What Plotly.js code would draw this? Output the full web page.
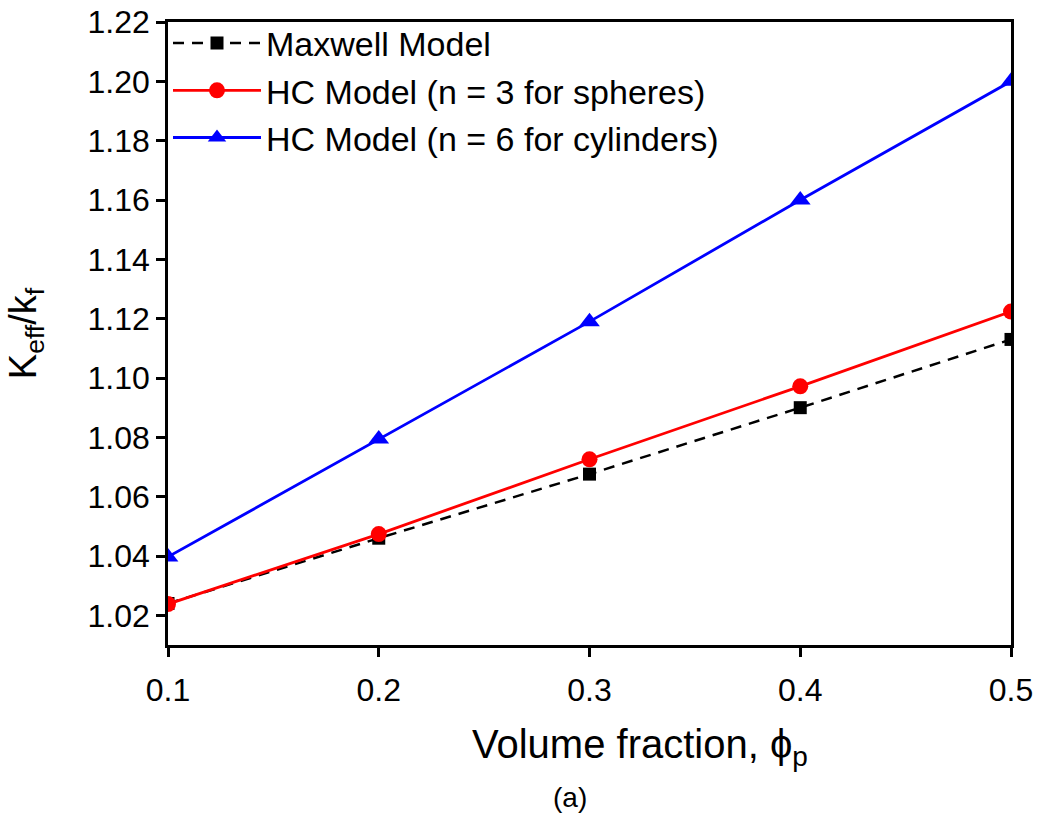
<!DOCTYPE html>
<html><head><meta charset="utf-8">
<script src="https://cdn.plot.ly/plotly-3.0.1.min.js"></script>
<style>body{margin:0;background:#fff}</style></head>
<body><div id="plot" style="width:1045px;height:818px"></div>
<script>
const xVals = [0.1, 0.2, 0.3, 0.4, 0.5];
const maxwell = [1.024, 1.046, 1.0676, 1.090, 1.113];
const hc3 = [1.0238, 1.0474, 1.0726, 1.0972, 1.1224];
const hc6 = [1.0397, 1.0794, 1.119, 1.160, 1.200];
const names = ['Maxwell Model', 'HC Model (n = 3 for spheres)', 'HC Model (n = 6 for cylinders)'];
const xTicks = [0.1, 0.2, 0.3, 0.4, 0.5];
const xTickText = ['0.1','0.2','0.3','0.4','0.5'];
const yTicks = [1.02,1.04,1.06,1.08,1.10,1.12,1.14,1.16,1.18,1.20,1.22];
const yTickText = ['1.02','1.04','1.06','1.08','1.10','1.12','1.14','1.16','1.18','1.20','1.22'];
const xTitle = 'Volume fraction, ϕ<sub>p</sub>';
const yTitle = 'K<sub>eff</sub>/k<sub>f</sub>';
const caption = '(a)';

const font = 'Liberation Sans, Arial, sans-serif';
const traces = [
  {x: xVals, y: maxwell, name: names[0], mode: 'lines+markers',
   line: {color: 'black', width: 2.5, dash: '11px,8px'}, marker: {symbol: 'square', size: 13, color: 'black'}},
  {x: xVals, y: hc3, name: names[1], mode: 'lines+markers',
   line: {color: '#ff0000', width: 2.8}, marker: {symbol: 'circle', size: 16, color: '#ff0000'}},
  {x: xVals, y: hc6, name: names[2], mode: 'lines+markers',
   line: {color: '#0000ff', width: 2.8}, marker: {symbol: 'triangle-up', size: 18, color: '#0000ff'}}
];
const axisCommon = {
  showline: true, linecolor: 'black', linewidth: 2.5, mirror: true,
  ticks: 'outside', ticklen: 9, tickwidth: 2.5, tickcolor: 'black',
  showgrid: false, zeroline: false,
  tickfont: {family: font, size: 32, color: 'black'}
};
const layout = {
  width: 1045, height: 818,
  margin: {l: 168, r: 34, t: 22, b: 173},
  paper_bgcolor: 'white', plot_bgcolor: 'white',
  showlegend: true,
  legend: {x: 0.0, y: 1.012, xanchor: 'left', yanchor: 'top', bgcolor: 'rgba(0,0,0,0)',
    font: {family: font, size: 34, color: 'black'}, itemwidth: 88, tracegroupgap: 0},
  xaxis: Object.assign({}, axisCommon, {
    range: [0.1, 0.5], tickvals: xTicks, ticktext: xTickText, ticklabelstandoff: 6
  }),
  yaxis: Object.assign({}, axisCommon, {
    range: [1.01, 1.22], tickvals: yTicks, ticktext: yTickText,
    title: {text: yTitle, font: {family: font, size: 38, color: 'black'}, standoff: 40}
  }),
  annotations: [
    {text: xTitle, xref: 'paper', yref: 'paper', x: 0.56, y: -0.163, xanchor: 'center', yanchor: 'middle',
     showarrow: false, font: {family: font, size: 40, color: 'black'}},
    {text: caption, xref: 'paper', yref: 'paper', x: 0.477, y: -0.245, xanchor: 'center', yanchor: 'middle',
     showarrow: false, font: {family: font, size: 28, color: 'black'}}
  ]
};
Plotly.newPlot('plot', traces, layout, {displayModeBar: false});
</script></body></html>
